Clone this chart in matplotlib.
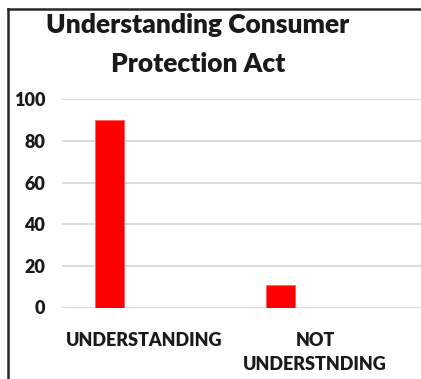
import matplotlib
matplotlib.use("Agg")
import matplotlib.pyplot as plt
from matplotlib.lines import Line2D

categories = ["UNDERSTANDING", "NOT\nUNDERSTNDING"]
values = [90, 11]
y_ticks = [0, 20, 40, 60, 80, 100]

W, H = 421, 379
fig = plt.figure(figsize=(W / 100, H / 100), dpi=100)
plt.rcParams['font.family'] = ['Lato', 'DejaVu Sans']
TEXT_WEIGHT = "heavy"

# plot area in pixel coordinates
left_px, right_px = 62, 421
top_px, bottom_px = 99.3, 307.5
ax = fig.add_axes([left_px / W, (H - bottom_px) / H,
                   (right_px - left_px) / W, (bottom_px - top_px) / H])

cat_x = [0, 1]
bar_offset = -0.2
bar_width = 0.17
ax.bar([x + bar_offset for x in cat_x], values, width=bar_width,
       color="#ff0000", edgecolor="#ff6060", linewidth=0.6, zorder=3)

ax.set_ylim(0, 100)
ax.set_xlim(-0.48, 1.62)
ax.set_yticks(y_ticks)
ax.set_yticklabels([str(t) for t in y_ticks], fontsize=13,
                   fontweight=TEXT_WEIGHT, color="#1a1a1a")
ax.set_xticks(cat_x)
ax.set_xticklabels(categories, fontsize=13, fontweight=TEXT_WEIGHT,
                   color="#1a1a1a", linespacing=1.5)
ax.tick_params(axis="both", length=0)
ax.tick_params(axis="y", pad=12)
ax.tick_params(axis="x", pad=18)
for s in ax.spines.values():
    s.set_visible(False)
ax.yaxis.grid(True, color="#d9d9d9", linewidth=1.3, zorder=0)
ax.set_axisbelow(True)

# two-line title
fig.text(198 / W, 1 - 33 / H, "Understanding Consumer", ha="center",
         va="baseline", fontsize=19, fontweight=TEXT_WEIGHT, color="#1a1a1a")
fig.text(198 / W, 1 - 72 / H, "Protection Act", ha="center",
         va="baseline", fontsize=19, fontweight=TEXT_WEIGHT, color="#1a1a1a")

# frame lines at top and left
fig.add_artist(Line2D([8 / W, 1], [1 - 8.5 / H, 1 - 8.5 / H],
                      transform=fig.transFigure, color="#262626", linewidth=1.8))
fig.add_artist(Line2D([8 / W, 8 / W], [0, 1 - 8.5 / H],
                      transform=fig.transFigure, color="#262626", linewidth=1.8))

fig.savefig("out.png", dpi=100)
